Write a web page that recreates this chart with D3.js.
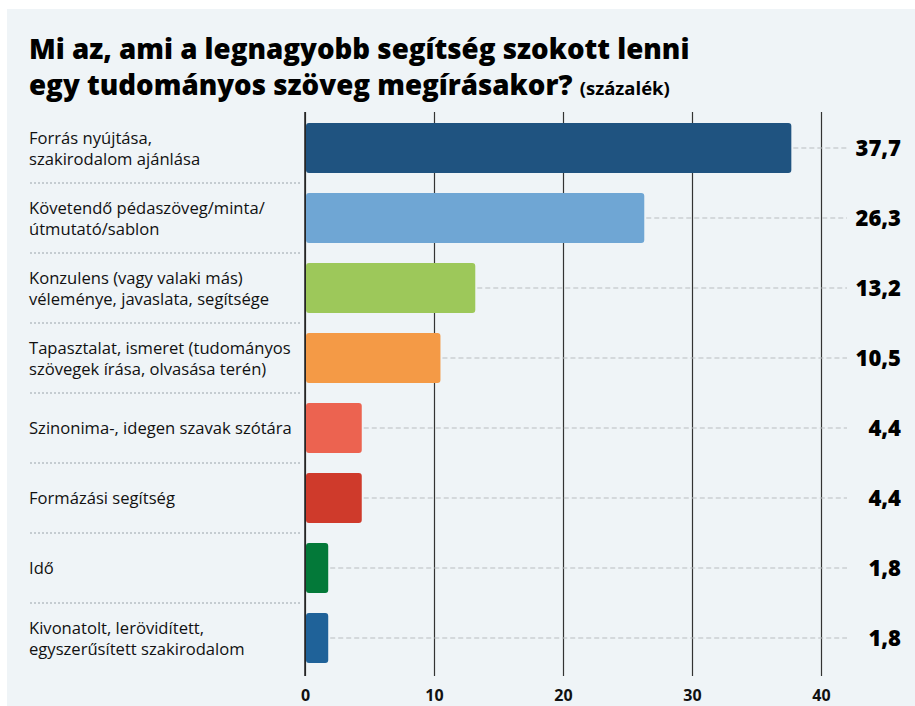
<!DOCTYPE html>
<html>
<head>
<meta charset="utf-8">
<script src="https://cdn.jsdelivr.net/npm/d3@7"></script>
<style>
  body { margin: 0; background: #fff; }
  svg { display: block; font-family: "Open Sans", "Noto Sans", sans-serif; }
</style>
</head>
<body>
<div id="chart"></div>
<script>
// data
const categories = [
  ["Forrás nyújtása,", "szakirodalom ajánlása"],
  ["Követendő pédaszöveg/minta/", "útmutató/sablon"],
  ["Konzulens (vagy valaki más)", "véleménye, javaslata, segítsége"],
  ["Tapasztalat, ismeret (tudományos", "szövegek írása, olvasása terén)"],
  ["Szinonima-, idegen szavak szótára"],
  ["Formázási segítség"],
  ["Idő"],
  ["Kivonatolt, lerövidített,", "egyszerűsített szakirodalom"]
];
const values = [37.7, 26.3, 13.2, 10.5, 4.4, 4.4, 1.8, 1.8];
const barColors = ["#1f5380", "#6fa6d4", "#9dc85a", "#f49a46", "#ec6350", "#cf3a2b", "#037939", "#1f6299"];
const tickValues = [0, 10, 20, 30, 40];

const W = 915, H = 706;
const svg = d3.select("#chart").append("svg")
  .attr("width", W).attr("height", H);

// panel background
svg.append("rect")
  .attr("x", 7).attr("y", 9).attr("width", W - 7).attr("height", H - 9)
  .attr("fill", "#eff4f7");

// title
const title = svg.append("text")
  .attr("x", 29).attr("y", 59)
  .attr("font-weight", 800).attr("font-size", 27.7).attr("fill", "#000");
title.append("tspan").text("Mi az, ami a legnagyobb segítség szokott lenni");
title.append("tspan").attr("x", 29).attr("dy", 36).text("egy tudományos szöveg megírásakor? ")
  .append("tspan").attr("font-size", 18.5).attr("font-weight", 700).text("(százalék)");

// scales
const x = d3.scaleLinear().domain([0, 40]).range([305, 821]);
const y = d3.scaleBand()
  .domain(d3.range(categories.length))
  .range([113, 673])
  .paddingInner(20 / 70).paddingOuter(10 / 70);

// gridlines + tick labels via axis
const axis = svg.append("g")
  .attr("transform", "translate(0,676)")
  .call(d3.axisBottom(x).tickValues(tickValues).tickSize(676 - 112).tickPadding(0).tickFormat(d3.format("d")));
axis.select(".domain").remove();
axis.selectAll(".tick line")
  .attr("y1", -(676 - 112)).attr("y2", 0)
  .attr("stroke", "#333").attr("stroke-width", 1.2);
axis.selectAll(".tick text")
  .attr("y", 25).attr("dy", 0)
  .attr("font-size", 16).attr("font-weight", 700).attr("fill", "#111")
  .attr("font-family", "\"Open Sans\", sans-serif");

// row separators (dotted) under the labels
svg.append("g").selectAll("line")
  .data(d3.range(categories.length - 1))
  .join("line")
  .attr("x1", 30).attr("x2", 300)
  .attr("y1", d => y(d) + y.bandwidth() + 10).attr("y2", d => y(d) + y.bandwidth() + 10)
  .attr("stroke", "#9aa4ab").attr("stroke-width", 1).attr("stroke-dasharray", "2,2");

// category labels
const labels = svg.append("g").selectAll("text")
  .data(categories)
  .join("text")
  .attr("x", 29)
  .attr("y", (d, i) => y(i) + y.bandwidth() / 2 + 6 - (d.length - 1) * 10.5)
  .attr("font-size", 16.6).attr("fill", "#111");
labels.selectAll("tspan")
  .data(d => d)
  .join("tspan")
  .attr("x", 29)
  .attr("dy", (d, i) => i === 0 ? 0 : 21)
  .text(d => d);

// dashed leaders
svg.append("g").selectAll("line")
  .data(values)
  .join("line")
  .attr("x1", d => x(d) + 2).attr("x2", 847)
  .attr("y1", (d, i) => y(i) + y.bandwidth() / 2).attr("y2", (d, i) => y(i) + y.bandwidth() / 2)
  .attr("stroke", "#b9bdc0").attr("stroke-width", 1).attr("stroke-dasharray", "5,3");

// bars
svg.append("g").selectAll("rect")
  .data(values)
  .join("rect")
  .attr("x", x(0) + 1)
  .attr("y", (d, i) => y(i))
  .attr("width", d => x(d) - x(0) - 1)
  .attr("height", y.bandwidth())
  .attr("rx", 3).attr("ry", 3)
  .attr("fill", (d, i) => barColors[i]);

// axis baseline on top of bars
svg.append("line")
  .attr("x1", x(0)).attr("x2", x(0)).attr("y1", 112).attr("y2", 676)
  .attr("stroke", "#222").attr("stroke-width", 1.5);

// value labels
svg.append("g").selectAll("text")
  .data(values)
  .join("text")
  .attr("x", 901)
  .attr("y", (d, i) => y(i) + y.bandwidth() / 2 + 8)
  .attr("text-anchor", "end")
  .attr("font-size", 22).attr("font-weight", 800).attr("fill", "#000")
  .text(d => d3.format(".1f")(d).replace(".", ","));
</script>
</body>
</html>
